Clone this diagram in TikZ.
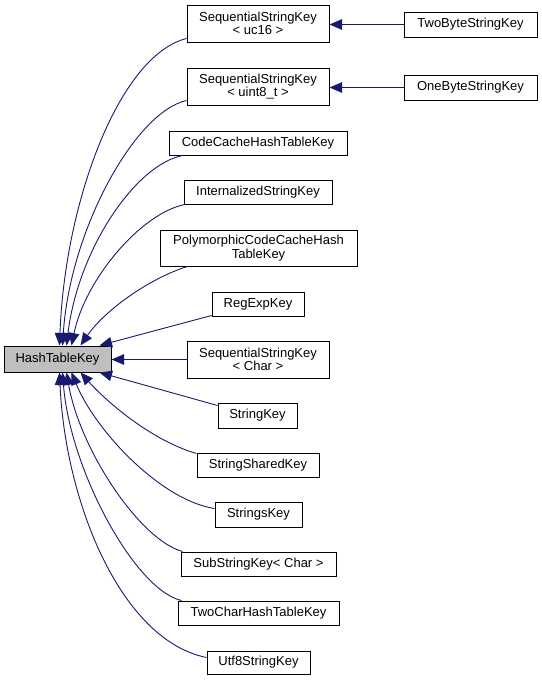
\documentclass[tikz,border=0pt]{standalone}
\usepackage{fontspec}
\setmainfont{Liberation Sans}
\usetikzlibrary{arrows.meta,calc}
\definecolor{edgeblue}{RGB}{25,25,112}
\definecolor{htkgray}{RGB}{191,191,191}
\tikzset{
  box/.style={draw=black, line width=1pt, inner sep=0pt, minimum height=25pt,
    align=center, font=\fontsize{13}{13.6}\selectfont},
  box2/.style={box, minimum height=37pt},
  edge/.style={draw=edgeblue, line width=0.9pt, -{Triangle[length=12.5pt,width=10.5pt]}}
}
\begin{document}
\begin{tikzpicture}[x=1pt,y=-1pt]
\useasboundingbox (0,0) rectangle (541,680);
% nodes
\node[box, fill=htkgray, minimum width=107pt, minimum height=26pt] (htk) at (57.5,359) {HashTableKey};
\node[box2, minimum width=142pt] (uc16) at (258,23.5) {SequentialStringKey\\< uc16 >};
\node[box2, minimum width=142pt] (uint8) at (258,86.5) {SequentialStringKey\\< uint8\_t >};
\node[box, minimum width=133pt] (twobyte) at (470.5,24.5) {TwoByteStringKey};
\node[box, minimum width=133pt] (onebyte) at (470.5,87.5) {OneByteStringKey};
\node[box, minimum width=178pt, minimum height=24pt] (codecache) at (258,143) {CodeCacheHashTableKey};
\node[box, minimum width=148pt, minimum height=24pt] (internal) at (258,192) {InternalizedStringKey};
\node[box, minimum width=197pt, minimum height=36pt] (poly) at (258.5,248) {PolymorphicCodeCacheHash\\TableKey};
\node[box, minimum width=92pt, minimum height=24pt] (regexp) at (258,304) {RegExpKey};
\node[box2, minimum width=142pt] (sschar) at (258,359.5) {SequentialStringKey\\< Char >};
\node[box, minimum width=79pt] (stringkey) at (257.5,415.5) {StringKey};
\node[box, minimum width=122pt, minimum height=24pt] (shared) at (258,465) {StringSharedKey};
\node[box, minimum width=87pt] (strings) at (258.5,514.5) {StringsKey};
\node[box, minimum width=155pt, minimum height=24pt] (substring) at (258.5,564) {SubStringKey< Char >};
\node[box, minimum width=161pt, minimum height=24pt] (twochar) at (258.5,613) {TwoCharHashTableKey};
\node[box, minimum width=103pt, minimum height=23pt] (utf8) at (258.5,662.5) {Utf8StringKey};
% right-hand edges
\draw[edge] (twobyte.west) -- (uc16.east |- twobyte.west);
\draw[edge] (onebyte.west) -- (uint8.east |- onebyte.west);
% top group
\draw[edge] ([yshift=4pt]uc16.south west) .. controls (120,55) and (65,200) .. ([xshift=56pt]htk.north west);
\draw[edge] ([yshift=5pt]uint8.south west) .. controls (135,112) and (70,230) .. ([xshift=59pt]htk.north west);
\draw[edge] ([xshift=14pt]codecache.south west) .. controls (135,165) and (78,250) .. ([xshift=63pt]htk.north west);
\draw[edge] ([xshift=1pt]internal.south west) .. controls (140,214) and (85,280) .. ([xshift=68pt]htk.north west);
\draw[edge] ([xshift=28pt]poly.south west) .. controls (150,278) and (105,310) .. ([xshift=77pt]htk.north west);
\draw[edge] ([yshift=1pt]regexp.south west) -- ([xshift=96pt]htk.north west);
\draw[edge] (sschar.west) -- (htk.east |- sschar.west);
\draw[edge] ([yshift=-3pt]stringkey.north west) -- ([xshift=96pt]htk.south west);
% bottom group
\draw[edge] ([yshift=-1pt]shared.north west) .. controls (150,440) and (105,400) .. ([xshift=77pt]htk.south west);
\draw[edge] ([yshift=-7pt]strings.north west) .. controls (160,500) and (95,430) .. ([xshift=68pt]htk.south west);
\draw[edge] ([xshift=2pt]substring.north west) .. controls (140,540) and (80,450) .. ([xshift=63pt]htk.south west);
\draw[edge] ([xshift=4pt]twochar.north west) .. controls (135,590) and (70,470) .. ([xshift=59pt]htk.south west);
\draw[edge] ([yshift=-7pt]utf8.north west) .. controls (120,640) and (65,500) .. ([xshift=56pt]htk.south west);
\end{tikzpicture}
\end{document}
